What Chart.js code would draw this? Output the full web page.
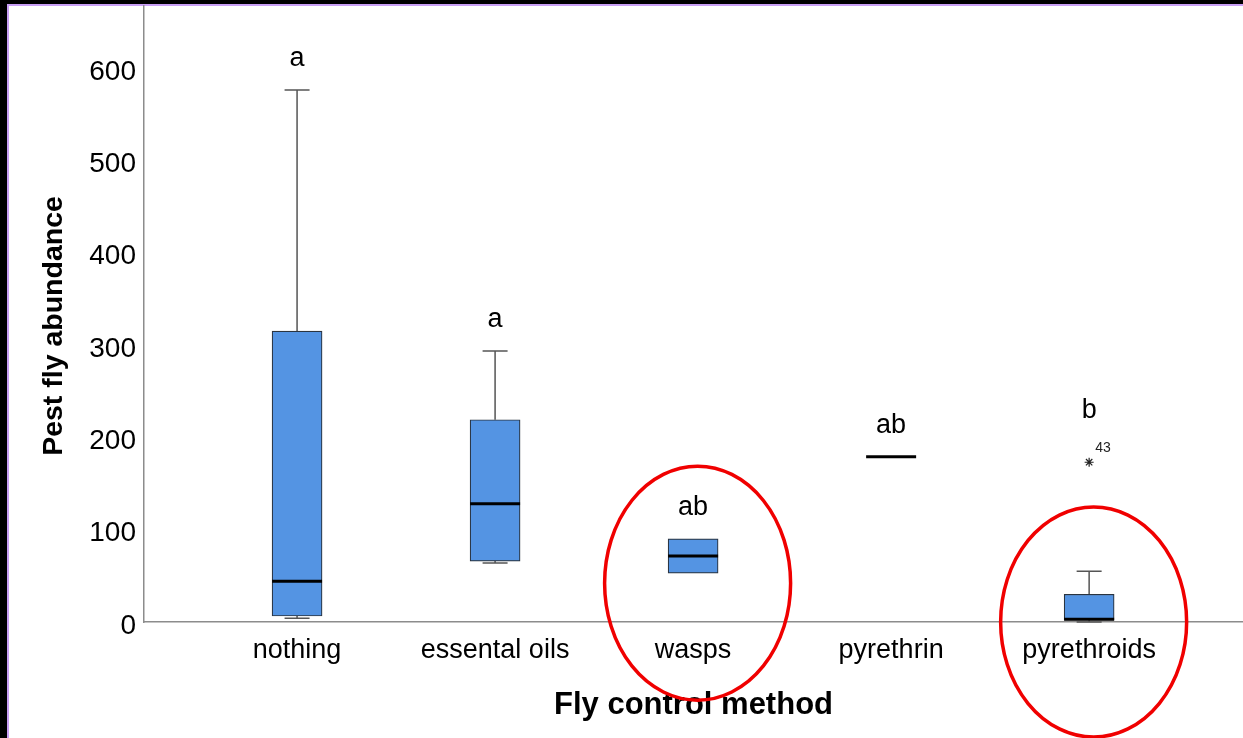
<!DOCTYPE html>
<html>
<head>
<meta charset="utf-8">
<script src="https://cdn.jsdelivr.net/npm/chart.js@4.4.0/dist/chart.umd.min.js"></script>
<style>
  html, body { margin: 0; padding: 0; background: #000; }
  #wrap { position: absolute; left: 0; top: 0; width: 1243px; height: 738px; }
</style>
</head>
<body>
<div id="wrap"><canvas id="c" width="1243" height="738"></canvas></div>
<script>
// Pest fly abundance per fly control method (box plot summary)
const categories   = ['nothing', 'essental oils', 'wasps', 'pyrethrin', 'pyrethroids'];
const whiskerLow   = [4,   64,  53, 179,  0];
const q1           = [6.5, 66,  53, 179,  2];
const median       = [44,  128, 71.5, 179, 3];
const q3           = [315, 219, 90, 179, 30];
const whiskerHigh  = [576, 293.5, 90, 179, 55];
const groupLetters = ['a', 'a', 'ab', 'ab', 'b'];
// extreme value (case 43) in the pyrethroids group
const outlierGroup = [4];
const outlierValue = [173];
const outlierCase  = ['43'];
const yTickValues  = [0, 100, 200, 300, 400, 500, 600];
const highlighted  = [2, 4];

const FONT = '"Liberation Sans", Arial, sans-serif';

const frame = {
  id: 'frame',
  beforeDraw(chart) {
    const { ctx, width, height } = chart;
    ctx.save();
    ctx.fillStyle = '#000';
    ctx.fillRect(0, 0, width, height);
    ctx.fillStyle = '#c99ff5';
    ctx.fillRect(7, 4, width - 7, height - 4);
    ctx.fillStyle = '#fff';
    ctx.fillRect(9, 6, width - 9, height - 6);
    ctx.restore();
  }
};

const boxPlot = {
  id: 'boxPlot',
  beforeDatasetsDraw(chart) {
    const { ctx, scales: { x, y } } = chart;
    ctx.save();
    ctx.strokeStyle = '#555';
    ctx.lineWidth = 1.5;
    categories.forEach((c, i) => {
      const px = x.getPixelForValue(i);
      const seg = (from, to) => {
        const a = y.getPixelForValue(from), b = y.getPixelForValue(to);
        ctx.beginPath();
        ctx.moveTo(px, a); ctx.lineTo(px, b);
        ctx.moveTo(px - 12.5, b); ctx.lineTo(px + 12.5, b);
        ctx.stroke();
      };
      if (whiskerHigh[i] > q3[i]) seg(q3[i], whiskerHigh[i]);
      if (whiskerLow[i] < q1[i]) seg(q1[i], whiskerLow[i]);
    });
    ctx.restore();
  },
  afterDatasetsDraw(chart) {
    const { ctx, scales: { x, y } } = chart;
    ctx.save();
    // medians
    ctx.strokeStyle = '#000';
    ctx.lineWidth = 3;
    categories.forEach((c, i) => {
      const px = x.getPixelForValue(i);
      const py = y.getPixelForValue(median[i]);
      ctx.beginPath();
      ctx.moveTo(px - 25, py); ctx.lineTo(px + 25, py);
      ctx.stroke();
    });
    // case label next to the extreme value
    ctx.fillStyle = '#222';
    ctx.font = '14px ' + FONT;
    ctx.textBaseline = 'alphabetic';
    ctx.textAlign = 'left';
    outlierGroup.forEach((g, k) => {
      const px = x.getPixelForValue(g), py = y.getPixelForValue(outlierValue[k]);
      ctx.fillText(outlierCase[k], px + 6, py - 10);
    });
    // significance letters above each group
    ctx.fillStyle = '#000';
    ctx.font = '27px ' + FONT;
    ctx.textAlign = 'center';
    categories.forEach((c, i) => {
      const px = x.getPixelForValue(i);
      let top = y.getPixelForValue(whiskerHigh[i]);
      outlierGroup.forEach((g, k) => {
        if (g === i) top = Math.min(top, y.getPixelForValue(outlierValue[k]) - 20);
      });
      ctx.fillText(groupLetters[i], px, top - 24);
    });
    // red highlight rings
    ctx.strokeStyle = '#f00000';
    ctx.lineWidth = 3.5;
    highlighted.forEach(i => {
      const px = x.getPixelForValue(i);
      const cy = i === 2 ? y.getPixelForValue(42) : y.getPixelForValue(0);
      ctx.beginPath();
      ctx.ellipse(px + 4.5, cy, 93, i === 2 ? 117 : 115, 0, 0, Math.PI * 2);
      ctx.stroke();
    });
    // y-axis title
    ctx.fillStyle = '#000';
    ctx.font = 'bold 28.5px ' + FONT;
    ctx.textAlign = 'center';
    ctx.textBaseline = 'middle';
    ctx.translate(54, 326);
    ctx.rotate(-Math.PI / 2);
    ctx.fillText('Pest fly abundance', 0, 0);
    ctx.restore();
  }
};

new Chart(document.getElementById('c'), {
  type: 'bar',
  data: {
    datasets: [
      {
        type: 'bar',
        data: categories.map((c, i) => ({ x: i, y: [q1[i], q3[i]] })),
        backgroundColor: '#5494e3',
        borderColor: '#2a3440',
        borderWidth: 1.2,
        borderSkipped: false,
        barThickness: 50
      },
      {
        type: 'scatter',
        data: outlierGroup.map((g, k) => ({ x: g, y: outlierValue[k] })),
        pointStyle: 'star',
        radius: 4.5,
        borderColor: '#222',
        borderWidth: 1.2,
        backgroundColor: '#222'
      }
    ]
  },
  options: {
    responsive: false,
    animation: false,
    devicePixelRatio: 1,
    layout: { autoPadding: false, padding: { top: 6, left: 0, right: 0, bottom: 0 } },
    plugins: { legend: { display: false }, tooltip: { enabled: false } },
    scales: {
      x: {
        type: 'linear',
        offset: false,
        min: -0.773,
        max: 4.777,
        grid: { display: false, drawTicks: false, tickLength: 0, offset: false },
        border: { display: true, color: '#8c8c8c', width: 1.5 },
        afterBuildTicks: s => { s.ticks = categories.map((c, i) => ({ value: i })); },
        afterFit: s => { s.height = 116; s.paddingLeft = 0; s.paddingRight = 0; },
        ticks: {
          autoSkip: false,
          maxRotation: 0,
          padding: 12,
          color: '#000',
          font: { family: FONT, size: 27 },
          callback: v => categories[v]
        },
        title: {
          display: true,
          text: 'Fly control method',
          color: '#000',
          font: { family: FONT, size: 31, weight: 'bold' },
          padding: { top: 0, bottom: 14 }
        }
      },
      y: {
        min: 0,
        max: 667,
        grid: { display: false, drawTicks: false, tickLength: 0 },
        border: { display: true, color: '#8c8c8c', width: 1.5 },
        afterBuildTicks: s => { s.ticks = yTickValues.map(v => ({ value: v })); },
        afterFit: s => { s.width = 144; s.paddingTop = 0; s.paddingBottom = 0; },
        ticks: {
          padding: 8,
          labelOffset: 4,
          color: '#000',
          font: { family: FONT, size: 28 }
        }
      }
    }
  },
  plugins: [frame, boxPlot]
});
</script>
</body>
</html>
